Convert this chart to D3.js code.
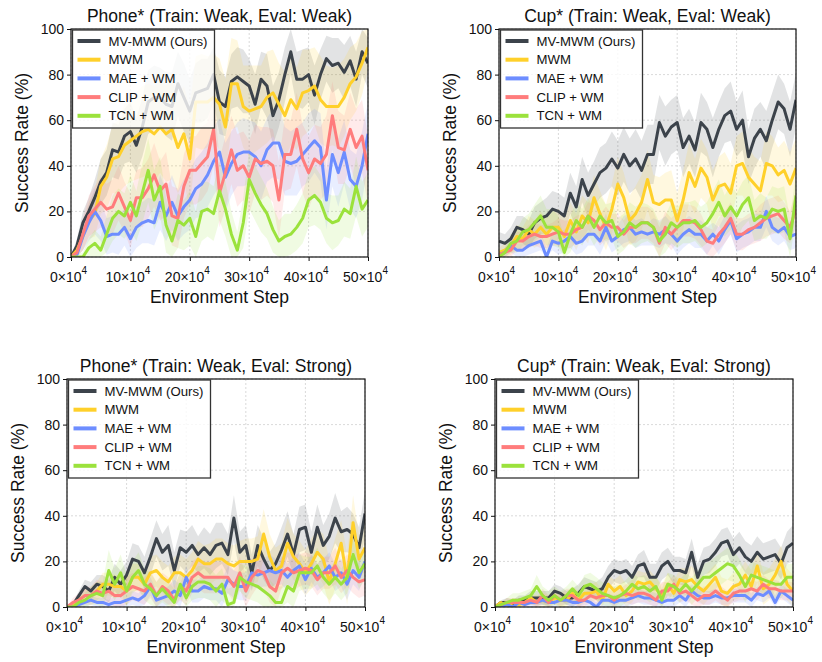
<!DOCTYPE html>
<html><head><meta charset="utf-8">
<script src="https://cdn.jsdelivr.net/npm/d3@7"></script>
<style>body{margin:0;background:#fff;} text{font-family:"Liberation Sans",Arial,Helvetica,sans-serif;fill:#111;}</style>
</head><body><svg id="c" width="822" height="662"></svg>
<script>
// ---------------- data ----------------
const steps = [0,1,2,3,4,5,6,7,8,9,10,11,12,13,14,15,16,17,18,19,20,21,22,23,24,25,26,27,28,29,30,31,32,33,34,35,36,37,38,39,40,41,42,43,44,45,46,47,48,49,50]; // x 10^4 env steps
const xTicks = [0,10,20,30,40,50];
const yTicks = [0,20,40,60,80,100];
const seriesNames = ["MV-MWM (Ours)","MWM","MAE + WM","CLIP + WM","TCN + WM"];
const seriesColors = ["#3c434b","#ffd02a","#6d8dff","#ff7c7c","#9be23c"];
const panelTitles = ["Phone* (Train: Weak, Eval: Weak)","Cup* (Train: Weak, Eval: Weak)","Phone* (Train: Weak, Eval: Strong)","Cup* (Train: Weak, Eval: Strong)"];

// Phone* Weak/Weak
const phoneWW_mvmwm = [0,5,15,20,26,33,37,47,46,53,55,49,57,68,70,70,67,66,76,70,64,72,73,74,80,68,66,77,79,77,75,67,78,75,62,69,80,90,78,78,80,71,80,87,84,85,81,86,78,90,85];
const phoneWW_mwm   = [0,3,9,16,19,31,35,43,44,49,51,53,55,56,54,57,54,56,48,54,43,68,68,68,70,67,57,76,76,66,64,65,66,70,72,67,62,69,65,72,73,75,69,66,66,66,70,76,79,85,92];
const phoneWW_mae   = [0,1,9,15,20,16,9,10,10,13,8,13,15,16,15,24,18,24,18,22,25,30,32,36,42,46,35,41,45,46,46,44,40,47,50,50,42,41,42,45,48,51,48,25,45,37,46,34,31,40,54];
const phoneWW_clip  = [0,2,10,18,21,24,21,22,28,22,16,26,26,30,36,29,32,18,17,31,38,38,41,44,56,28,37,47,38,40,35,43,41,42,40,25,45,45,56,43,37,43,41,45,62,48,47,56,48,53,38];
const phoneWW_tcn   = [0,0,0,4,6,3,10,17,20,18,24,18,28,38,25,31,14,7,16,14,17,9,20,21,19,29,21,10,3,15,34,28,23,19,12,7,9,10,13,17,25,27,24,17,15,16,21,19,31,21,25];
const phoneWW_mvmwm_sd = [0,3,5,6,8,10,10,12,12,12,13,12,13,14,14,13,14,15,14,15,14,13,14,13,12,14,13,12,13,14,12,13,12,14,13,12,12,10,12,13,12,13,11,10,12,11,12,11,12,10,11];
const phoneWW_mwm_sd   = [0,3,6,8,10,12,14,15,16,18,18,19,20,20,21,20,21,22,20,21,22,20,21,20,19,20,21,20,19,18,20,19,18,20,19,18,19,20,18,19,18,17,19,18,17,18,17,16,15,14,10];
const phoneWW_mae_sd   = [0,2,6,8,10,9,8,8,9,8,8,9,9,10,10,12,11,12,11,12,13,13,14,14,15,15,15,14,14,15,14,15,15,14,15,16,15,14,15,14,15,14,15,13,14,15,14,13,14,15,14];
const phoneWW_clip_sd  = [0,3,7,9,10,11,11,12,12,11,12,12,13,13,14,13,14,13,13,14,15,15,16,15,16,15,16,15,16,15,16,15,16,15,16,17,16,15,16,15,16,15,16,17,15,16,15,16,17,16,15];
const phoneWW_tcn_sd   = [0,1,2,4,6,6,8,10,10,10,12,11,13,14,13,13,12,10,12,11,12,11,13,12,12,13,12,10,8,11,13,12,12,11,10,9,10,9,10,11,12,13,12,11,12,11,12,11,13,12,12];

// Cup* Weak/Weak
const cupWW_mvmwm = [7,6,8,13,12,10,15,17,18,21,20,18,28,22,34,27,32,37,39,43,39,45,40,43,38,45,45,59,53,57,59,48,53,47,59,56,48,56,62,64,56,60,44,52,56,51,60,68,65,56,69];
const cupWW_mwm   = [2,3,5,9,8,12,10,13,10,13,13,9,16,11,18,15,26,19,13,21,32,26,16,19,24,34,24,23,25,25,16,25,37,31,39,35,25,31,32,28,40,41,35,32,29,41,40,36,38,32,39];
const cupWW_mae   = [1,2,5,3,3,5,6,7,0,7,6,7,9,6,7,10,10,7,13,7,9,12,13,10,11,10,11,10,12,10,7,10,12,10,10,7,10,7,12,16,8,10,11,13,13,20,13,11,13,9,10];
const cupWW_clip  = [1,2,3,7,7,9,10,9,9,10,11,10,10,12,13,18,16,12,15,13,13,10,13,13,15,15,13,6,13,10,13,16,16,15,12,7,6,10,13,17,10,10,12,13,15,17,18,19,16,13,21];
const cupWW_tcn   = [0,2,6,7,11,12,15,18,13,13,11,2,10,16,13,18,13,18,15,16,9,11,15,13,15,15,13,7,10,15,13,15,15,16,13,15,19,24,18,22,18,23,26,16,18,17,21,20,21,8,27];
const cupWW_mvmwm_sd = [4,4,5,5,6,6,7,7,8,8,8,8,9,9,10,10,10,11,11,12,12,12,12,13,13,13,13,12,13,12,12,13,12,12,13,12,13,12,12,13,12,13,12,13,12,13,12,12,11,12,12];
const cupWW_mwm_sd   = [2,3,4,5,5,6,6,7,7,7,8,8,8,8,9,9,10,10,10,11,12,11,11,12,12,13,12,12,12,13,12,13,13,12,13,12,13,13,14,13,13,14,13,12,13,14,13,12,13,14,13];
const cupWW_mae_sd   = [1,2,3,3,3,4,4,4,4,4,5,5,5,5,5,5,5,6,6,5,5,6,6,6,6,5,6,6,6,5,6,6,6,6,6,6,5,6,6,6,6,6,6,6,6,7,6,6,6,6,6];
const cupWW_clip_sd  = [1,2,3,4,4,5,5,5,5,5,6,6,6,6,6,6,7,7,7,6,6,6,7,7,7,7,7,7,7,7,7,7,7,7,7,6,6,7,7,7,7,7,7,7,8,8,8,8,8,7,8];
const cupWW_tcn_sd   = [1,2,4,5,6,7,8,9,8,8,7,6,8,8,8,8,8,9,8,8,8,8,9,9,9,8,8,8,8,9,9,9,9,9,9,9,10,10,9,10,10,10,10,9,10,9,10,10,10,9,10];

// Phone* Weak/Strong
const phoneWS_mvmwm = [0,1,5,9,7,10,9,7,13,10,14,21,20,15,22,30,24,27,16,26,24,27,23,26,23,27,28,23,39,24,27,15,27,21,16,19,25,32,23,34,35,24,35,27,31,39,33,34,32,26,41];
const phoneWS_mwm   = [0,1,3,5,5,7,10,10,9,9,7,13,13,10,15,16,13,11,15,15,13,16,21,19,19,21,21,19,18,20,20,20,21,32,22,16,18,28,22,19,15,19,24,21,11,19,28,12,37,21,26];
const phoneWS_mae   = [0,0,1,2,3,2,2,1,2,2,3,4,3,5,9,3,4,5,7,5,13,7,7,9,8,8,6,12,10,9,9,15,14,15,16,15,16,13,16,18,12,17,13,15,18,13,15,10,16,13,20];
const phoneWS_clip  = [0,2,3,5,5,7,6,7,5,5,7,9,8,7,10,5,9,7,3,9,7,13,15,13,13,13,13,13,9,15,7,13,16,15,9,7,15,17,15,16,17,16,12,15,15,18,13,16,13,11,12];
const phoneWS_tcn   = [0,0,2,3,5,6,5,16,10,15,7,13,16,10,8,5,8,5,2,10,4,9,11,11,10,7,10,1,2,13,11,10,9,7,5,2,2,9,7,15,15,15,18,13,10,13,10,13,23,15,19];
const phoneWS_mvmwm_sd = [0,1,2,3,4,4,5,5,6,6,6,7,7,7,8,8,8,9,8,8,9,9,8,9,9,10,9,9,10,9,9,8,9,9,8,9,10,10,9,10,10,9,10,9,10,11,9,10,9,9,10];
const phoneWS_mwm_sd   = [0,1,2,3,3,4,5,5,5,5,6,6,6,6,7,7,7,7,7,8,8,8,8,8,9,9,9,9,9,9,10,10,10,11,10,10,10,11,10,10,10,11,10,11,10,11,10,11,12,10,10];
const phoneWS_mae_sd   = [0,1,1,2,2,2,2,2,3,3,3,3,3,4,4,4,4,4,5,5,5,5,5,5,5,5,6,6,6,6,6,6,6,6,7,6,6,6,6,6,7,6,6,6,6,6,6,7,6,6,6];
const phoneWS_clip_sd  = [0,2,3,4,4,5,5,5,5,5,6,6,6,6,6,6,6,6,6,6,6,7,7,7,7,7,7,7,7,7,7,8,7,7,7,7,7,7,8,7,7,7,7,7,7,8,7,7,7,7,7];
const phoneWS_tcn_sd   = [0,1,2,3,4,5,6,9,7,8,7,7,8,7,7,6,6,6,6,6,6,6,7,7,7,7,7,7,7,6,7,7,7,7,7,7,7,7,7,8,7,7,8,7,7,7,7,7,8,7,7];

// Cup* Weak/Strong
const cupWS_mvmwm = [0,2,2,1,3,3,4,4,4,4,7,6,4,4,6,9,8,7,8,13,16,15,16,13,18,19,13,13,18,20,16,16,15,24,13,20,21,24,28,29,23,26,22,20,24,21,22,23,19,26,28];
const cupWS_mwm   = [0,2,0,2,1,2,4,2,3,2,4,3,3,6,3,6,6,7,3,10,7,9,5,7,11,10,11,8,5,10,6,12,11,12,9,7,10,13,7,6,9,10,14,9,18,8,10,14,20,10,7];
const cupWS_mae   = [0,0,1,0,2,1,2,2,3,2,2,3,3,2,2,3,2,0,3,3,2,3,3,4,5,4,4,3,2,3,3,5,3,7,5,4,4,5,4,4,5,5,5,3,6,5,7,2,7,5,3];
const cupWS_clip  = [0,1,2,2,2,2,3,2,5,2,5,3,5,5,3,3,5,4,5,5,3,5,6,5,6,6,5,3,7,7,10,6,7,5,3,5,5,7,5,3,6,7,7,8,7,10,8,8,7,7,7];
const cupWS_tcn   = [0,1,2,3,3,4,5,9,5,3,5,3,5,8,5,9,10,8,6,5,4,5,7,10,8,9,7,9,3,10,9,7,10,7,10,13,13,15,17,19,18,14,9,14,13,12,11,10,10,13,13];
const cupWS_mvmwm_sd = [0,1,2,2,2,2,3,3,3,3,3,3,3,4,4,4,4,4,5,5,5,5,5,5,5,6,6,6,6,6,6,6,6,6,6,6,6,6,6,6,7,7,7,7,7,7,7,7,7,7,8];
const cupWS_mwm_sd   = [0,1,1,2,2,2,2,3,3,3,3,3,3,3,4,4,4,4,4,4,5,5,5,5,5,5,5,5,5,5,5,5,6,6,6,6,6,6,6,6,6,6,6,7,7,7,7,7,7,7,7];
const cupWS_mae_sd   = [0,1,1,1,1,1,2,2,2,2,2,2,2,2,2,2,2,2,3,3,3,3,3,3,3,3,3,3,3,3,3,3,3,3,3,3,3,3,3,3,3,3,3,3,3,3,3,3,3,3,3];
const cupWS_clip_sd  = [0,1,2,2,2,2,2,2,3,3,3,3,3,3,3,3,3,3,3,3,3,3,4,4,4,4,4,4,4,4,4,4,4,4,4,4,4,4,4,4,4,4,4,4,4,4,4,4,4,4,4];
const cupWS_tcn_sd   = [0,1,2,3,3,3,3,5,4,4,4,4,4,4,4,5,5,5,5,5,5,5,5,5,5,5,5,5,5,5,5,5,5,6,6,6,7,7,7,7,7,7,7,6,6,6,6,6,6,6,6];

// ---------------- layout ----------------
const panels = [
  {title: panelTitles[0], x0: 71, x1: 368, y0: 29, y1: 257, means: [phoneWW_mvmwm, phoneWW_mwm, phoneWW_mae, phoneWW_clip, phoneWW_tcn], sds: [phoneWW_mvmwm_sd, phoneWW_mwm_sd, phoneWW_mae_sd, phoneWW_clip_sd, phoneWW_tcn_sd]},
  {title: panelTitles[1], x0: 499, x1: 796, y0: 29, y1: 257, means: [cupWW_mvmwm, cupWW_mwm, cupWW_mae, cupWW_clip, cupWW_tcn], sds: [cupWW_mvmwm_sd, cupWW_mwm_sd, cupWW_mae_sd, cupWW_clip_sd, cupWW_tcn_sd]},
  {title: panelTitles[2], x0: 67, x1: 365, y0: 379, y1: 607, means: [phoneWS_mvmwm, phoneWS_mwm, phoneWS_mae, phoneWS_clip, phoneWS_tcn], sds: [phoneWS_mvmwm_sd, phoneWS_mwm_sd, phoneWS_mae_sd, phoneWS_clip_sd, phoneWS_tcn_sd]},
  {title: panelTitles[3], x0: 495, x1: 793, y0: 379, y1: 607, means: [cupWS_mvmwm, cupWS_mwm, cupWS_mae, cupWS_clip, cupWS_tcn], sds: [cupWS_mvmwm_sd, cupWS_mwm_sd, cupWS_mae_sd, cupWS_clip_sd, cupWS_tcn_sd]}
];

const svg = d3.select("#c");

panels.forEach((p, pi) => {
  const x = d3.scaleLinear().domain([0, 50]).range([p.x0, p.x1]);
  const y = d3.scaleLinear().domain([0, 100]).range([p.y1, p.y0]);
  const g = svg.append("g");
  const clipId = "clip" + pi;
  svg.append("defs").append("clipPath").attr("id", clipId)
    .append("rect").attr("x", p.x0).attr("y", p.y0).attr("width", p.x1 - p.x0).attr("height", p.y1 - p.y0);

  // grid
  g.append("g").selectAll("line.gx").data(xTicks).join("line")
    .attr("x1", d => x(d)).attr("x2", d => x(d)).attr("y1", p.y0).attr("y2", p.y1)
    .attr("stroke", "#cfcfcf").attr("stroke-width", 0.8).attr("stroke-dasharray", "2,2");
  g.append("g").selectAll("line.gy").data(yTicks).join("line")
    .attr("x1", p.x0).attr("x2", p.x1).attr("y1", d => y(d)).attr("y2", d => y(d))
    .attr("stroke", "#cfcfcf").attr("stroke-width", 0.8).attr("stroke-dasharray", "2,2");

  const plot = g.append("g").attr("clip-path", `url(#${clipId})`);
  // bands
  p.means.forEach((m, si) => {
    const sd = p.sds[si];
    const area = d3.area()
      .x((d, i) => x(steps[i]))
      .y0((d, i) => y(Math.max(0, m[i] - sd[i])))
      .y1((d, i) => y(Math.min(100, m[i] + sd[i])));
    plot.append("path").datum(m).attr("d", area)
      .attr("fill", seriesColors[si]).attr("fill-opacity", 0.15).attr("stroke", "none");
  });
  // lines
  p.means.forEach((m, si) => {
    const line = d3.line().x((d, i) => x(steps[i])).y(d => y(d));
    plot.append("path").datum(m).attr("d", line)
      .attr("fill", "none").attr("stroke", seriesColors[si]).attr("stroke-width", 3)
      .attr("stroke-linejoin", "round").attr("stroke-linecap", "butt");
  });

  // axes
  const yAxis = d3.axisLeft(y).tickValues(yTicks).tickSize(4).tickPadding(3);
  const ya = g.append("g").attr("transform", `translate(${p.x0},0)`).call(yAxis);
  ya.select(".domain").remove();
  ya.selectAll(".tick line").attr("stroke", "#111").attr("stroke-width", 1);
  ya.selectAll(".tick text").attr("font-size", 14).attr("font-family", '"Liberation Sans",Arial,sans-serif').attr("fill", "#111");

  const xAxis = d3.axisBottom(x).tickValues(xTicks).tickSize(4).tickFormat("");
  const xa = g.append("g").attr("transform", `translate(0,${p.y1})`).call(xAxis);
  xa.select(".domain").remove();
  xa.selectAll(".tick line").attr("stroke", "#111").attr("stroke-width", 1);
  xa.selectAll(".tick").each(function(d) {
    const t = d3.select(this).append("text").attr("x", -3).attr("y", 25)
      .attr("text-anchor", "middle").attr("font-size", 14).attr("fill", "#111");
    t.append("tspan").text(d + "×10");
    t.append("tspan").attr("dy", -8).attr("font-size", 10).text("4");
  });

  // frame
  g.append("rect").attr("x", p.x0).attr("y", p.y0).attr("width", p.x1 - p.x0).attr("height", p.y1 - p.y0)
    .attr("fill", "none").attr("stroke", "#111").attr("stroke-width", 1.2);

  // titles / labels
  const cx = (p.x0 + p.x1) / 2;
  g.append("text").attr("x", cx).attr("y", p.y0 - 7).attr("text-anchor", "middle")
    .attr("font-size", 17.5).text(p.title);
  g.append("text").attr("x", cx).attr("y", p.y1 + 46).attr("text-anchor", "middle")
    .attr("font-size", 17.5).text("Environment Step");
  g.append("text").attr("transform", `translate(${p.x0 - 43},${(p.y0 + p.y1) / 2}) rotate(-90)`)
    .attr("text-anchor", "middle").attr("font-size", 17.5).text("Success Rate (%)");

  // legend
  const lx = p.x0 + 1.5, ly = p.y0 + 1;
  const lg = g.append("g").attr("transform", `translate(${lx},${ly})`);
  lg.append("rect").attr("x", 0).attr("y", 0).attr("width", 142).attr("height", 98)
    .attr("fill", "#fff").attr("fill-opacity", 0.8).attr("stroke", "#333").attr("stroke-width", 1.3);
  seriesNames.forEach((name, si) => {
    const ry = 11 + si * 18.7;
    lg.append("line").attr("x1", 5).attr("x2", 28).attr("y1", ry).attr("y2", ry)
      .attr("stroke", seriesColors[si]).attr("stroke-width", 4);
    lg.append("text").attr("x", 36).attr("y", ry + 4.6).attr("font-size", 13.2).text(name);
  });
});
</script>
</body></html>
